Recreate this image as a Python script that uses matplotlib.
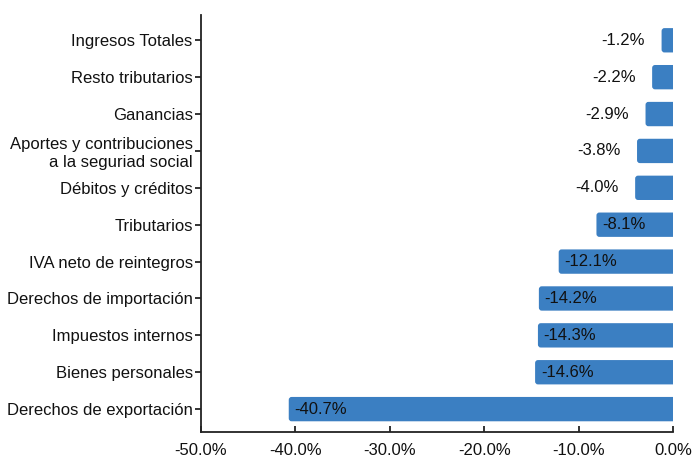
import matplotlib
matplotlib.use("Agg")
import matplotlib.pyplot as plt
from matplotlib.patches import FancyBboxPatch
from matplotlib.ticker import FuncFormatter

plt.rcParams['font.family'] = ['Liberation Sans', 'DejaVu Sans']

categories = ["Derechos de exportación", "Bienes personales", "Impuestos internos",
              "Derechos de importación", "IVA neto de reintegros", "Tributarios",
              "Débitos y créditos", "Aportes y contribuciones\na la seguriad social",
              "Ganancias", "Resto tributarios", "Ingresos Totales"]
values = [-40.7, -14.6, -14.3, -14.2, -12.1, -8.1, -4.0, -3.8, -2.9, -2.2, -1.2]
xticks = [-50, -40, -30, -20, -10, 0]

color = "#3b7fc2"
tc = "#111111"
fig = plt.figure(figsize=(6.93, 4.58), dpi=100)
ax = fig.add_axes([0.290, 0.0568, 0.681, 0.910])
ax.set_xlim(-50, 0)
ax.set_ylim(-0.62, len(categories) - 1 + 0.68)

h = 0.66
rx = 0.3
ry = 0.08
for i, v in enumerate(values):
    p = FancyBboxPatch((v, i - h / 2), -v + 1.0, h,
                       boxstyle=f"round,pad=0,rounding_size={rx}",
                       mutation_aspect=ry / rx,
                       facecolor=color, edgecolor="none", clip_on=True)
    ax.add_patch(p)
    label = f"{v:.1f}%"
    if v > -6:
        ax.text(v - 1.75, i, label, ha="right", va="center", fontsize=12, color=tc)
    else:
        ax.text(v + 0.6, i, label, ha="left", va="center", fontsize=12, color=tc)

ax.set_yticks(range(len(categories)))
ax.set_yticklabels(categories, fontsize=12, color=tc)
ax.set_xticks(xticks)
ax.xaxis.set_major_formatter(FuncFormatter(lambda x, _: f"{x:.1f}%"))
ax.tick_params(axis="x", direction="in", length=4.5, width=1.2, labelsize=12, colors=tc, pad=8)
ax.tick_params(axis="y", direction="out", length=4.5, width=1.2, colors=tc, pad=1.5)
for s in ["top", "right"]:
    ax.spines[s].set_visible(False)
for s in ["left", "bottom"]:
    ax.spines[s].set_linewidth(1.3)
    ax.spines[s].set_color("#222222")

fig.savefig("out.png", dpi=100)
